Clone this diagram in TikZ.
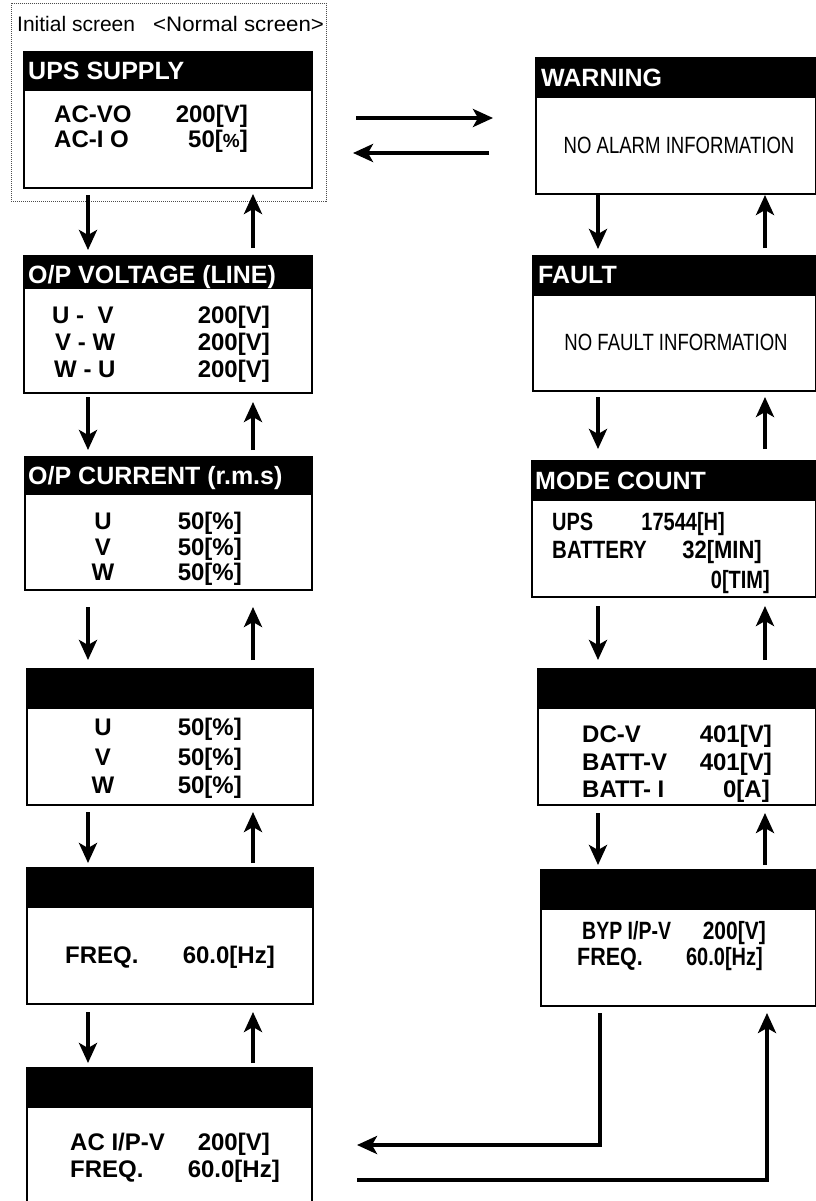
\documentclass[tikz,border=0pt]{standalone}
\usepackage{fontspec}
\setmainfont{Liberation Sans}
\usepackage{graphicx}
\usetikzlibrary{arrows.meta,calc}
\newcommand{\cnd}[2]{\scalebox{#1}[1]{#2}}
\tikzset{
 screen/.style={draw=black, line width=1.5pt, anchor=north west, inner sep=0pt, outer sep=0pt, fill=white},
 hdr/.style={fill=black, draw=black, line width=1.5pt, anchor=north west, inner sep=0pt, outer sep=0pt, minimum height=38pt},
 htxt/.style={anchor=base west, inner sep=0pt, text=white, font=\fontsize{25}{30}\selectfont\bfseries},
 lt/.style={anchor=base west, inner sep=0pt, font=\fontsize{24}{28}\selectfont\bfseries},
 rt/.style={anchor=base east, inner sep=0pt, font=\fontsize{24}{28}\selectfont\bfseries},
 ct/.style={anchor=base, inner sep=0pt, font=\fontsize{24}{28}\selectfont\bfseries},
 note/.style={anchor=base, inner sep=0pt, font=\fontsize{24}{28}\selectfont},
 arr/.style={line width=4pt, -{Stealth[length=20pt,width=18pt,inset=5pt]}},
}
\begin{document}
\begin{tikzpicture}[x=1pt,y=-1pt]
\useasboundingbox (0,0) rectangle (815,1201);
% dotted frame round the initial screen
\node[draw=black!70, line width=0.8pt, dash pattern=on 1pt off 1pt, anchor=north west, inner sep=0pt, minimum width=315pt, minimum height=198pt] (frame) at (11,3) {};
\node[anchor=base west, inner sep=0pt, font=\fontsize{21}{24}\selectfont] (ini) at (17,32) {Initial screen};
\node[anchor=base west, inner sep=0pt, font=\fontsize{21}{24}\selectfont] (nor) at (153,32) {\scalebox{1.06}[1]{<Normal screen>}};

% ---------- left column ----------
\node[screen, minimum width=288pt, minimum height=136pt] (b1) at (24,52) {};
\node[hdr, minimum width=288pt] (b1h) at (24,52) {};
\node[htxt] (b1t) at (28,80) {UPS SUPPLY};
\node[lt] (b1a) at (54,123) {AC-VO};
\node[rt] (b1b) at (248,123) {200[V]};
\node[lt] (b1c) at (54,148) {AC-I O};
\node[rt] (b1d) at (248,148) {50[{\fontsize{19}{20}\selectfont\%}]};

\node[screen, minimum width=288pt, minimum height=137pt] (b2) at (24,256) {};
\node[hdr, minimum width=288pt, minimum height=32pt] (b2h) at (24,256) {};
\node[htxt] (b2t) at (28,283) {O/P VOLTAGE (LINE)};
\node[lt] (b2a) at (52,323) {U -\ \ V};
\node[rt] (b2b) at (270,323) {200[V]};
\node[lt] (b2c) at (55,350) {V - W};
\node[rt] (b2d) at (270,350) {200[V]};
\node[lt] (b2e) at (54,377) {W - U};
\node[rt] (b2f) at (270,377) {200[V]};

\node[screen, minimum width=287pt, minimum height=133pt] (b3) at (25,457) {};
\node[hdr, minimum width=287pt, minimum height=37pt] (b3h) at (25,457) {};
\node[htxt] (b3t) at (28,484) {O/P CURRENT (r.m.s)};
\node[ct] (b3a) at (103,529) {U};
\node[rt] (b3b) at (242,529) {50[\%]};
\node[ct] (b3c) at (103,555) {V};
\node[rt] (b3d) at (242,555) {50[\%]};
\node[ct] (b3e) at (103,580) {W};
\node[rt] (b3f) at (242,580) {50[\%]};

\node[screen, minimum width=286pt, minimum height=136pt] (b4) at (27,669) {};
\node[hdr, minimum width=286pt, minimum height=39pt] (b4h) at (27,669) {};
\node[ct] (b4a) at (103,735) {U};
\node[rt] (b4b) at (242,735) {50[\%]};
\node[ct] (b4c) at (103,765) {V};
\node[rt] (b4d) at (242,765) {50[\%]};
\node[ct] (b4e) at (103,793) {W};
\node[rt] (b4f) at (242,793) {50[\%]};

\node[screen, minimum width=286pt, minimum height=136pt] (b5) at (27,868) {};
\node[hdr, minimum width=286pt, minimum height=39pt] (b5h) at (27,868) {};
\node[lt] (b5a) at (65,963) {FREQ.};
\node[rt] (b5b) at (275,963) {60.0[Hz]};

\node[screen, minimum width=285pt, minimum height=140pt] (b6) at (27,1068) {};
\node[hdr, minimum width=285pt, minimum height=39pt] (b6h) at (27,1068) {};
\node[lt] (b6a) at (70,1150) {AC I/P-V};
\node[rt] (b6b) at (270,1150) {200[V]};
\node[lt] (b6c) at (70,1177) {FREQ.};
\node[rt] (b6d) at (280,1177) {60.0[Hz]};

% ---------- right column ----------
\node[screen, minimum width=280pt, minimum height=136pt] (r1) at (536,58) {};
\node[hdr, minimum width=280pt, minimum height=39pt] (r1h) at (536,58) {};
\node[htxt] (r1t) at (541,87) {WARNING};
\node[note] (r1a) at (679,154) {\cnd{0.79}{\fontsize{23.5}{26}\selectfont NO ALARM INFORMATION}};

\node[screen, minimum width=283pt, minimum height=135pt] (r2) at (533,256) {};
\node[hdr, minimum width=283pt, minimum height=39pt] (r2h) at (533,256) {};
\node[htxt] (r2t) at (538,283) {FAULT};
\node[note] (r2a) at (676,350) {\cnd{0.79}{\fontsize{23.5}{26}\selectfont NO FAULT INFORMATION}};

\node[screen, minimum width=284pt, minimum height=136pt] (r3) at (532,461) {};
\node[hdr, minimum width=284pt, minimum height=39pt] (r3h) at (532,461) {};
\node[htxt] (r3t) at (535,489) {MODE COUNT};
\node[lt] (r3a) at (552,530) {\cnd{0.8}{\fontsize{25}{28}\selectfont UPS}};
\node[rt] (r3b) at (725,530) {\cnd{0.8}{\fontsize{25}{28}\selectfont 17544[H]}};
\node[lt] (r3c) at (552,558) {\cnd{0.82}{\fontsize{25}{28}\selectfont BATTERY}};
\node[rt] (r3d) at (762,558) {\cnd{0.88}{\fontsize{25}{28}\selectfont 32[MIN]}};
\node[rt] (r3e) at (770,588) {\cnd{0.8}{\fontsize{25}{28}\selectfont 0[TIM]}};

\node[screen, minimum width=278pt, minimum height=136pt] (r4) at (538,669) {};
\node[hdr, minimum width=278pt, minimum height=39pt] (r4h) at (538,669) {};
\node[lt] (r4a) at (582,742) {DC-V};
\node[rt] (r4b) at (772,742) {401[V]};
\node[lt] (r4c) at (582,770) {BATT-V};
\node[rt] (r4d) at (772,770) {401[V]};
\node[lt] (r4e) at (582,797) {BATT- I};
\node[rt] (r4f) at (770,797) {0[A]};

\node[screen, minimum width=275pt, minimum height=136pt] (r5) at (541,870) {};
\node[hdr, minimum width=275pt, minimum height=39pt] (r5h) at (541,870) {};
\node[lt] (r5a) at (582,939) {\cnd{0.78}{\fontsize{25}{28}\selectfont BYP I/P-V}};
\node[rt] (r5b) at (766,939) {\cnd{0.84}{\fontsize{25}{28}\selectfont 200[V]}};
\node[lt] (r5c) at (577,965) {\cnd{0.86}{\fontsize{25}{28}\selectfont FREQ.}};
\node[rt] (r5d) at (763,965) {\cnd{0.8}{\fontsize{25}{28}\selectfont 60.0[Hz]}};

% ---------- connector columns ----------
\coordinate (dL) at (88,0);
\coordinate (uL) at (253,0);
\coordinate (dR) at (598,0);
\coordinate (uR) at (765,0);
\coordinate (h1) at (0,118);
\coordinate (h2) at (0,153);
\coordinate (h3) at (0,1145);
\coordinate (h4) at (0,1180);
\coordinate (xa) at (600,0);
\coordinate (xb) at (767,0);

% left column
\draw[arr, shorten <=7pt, shorten >=6pt] (b1.south -| dL) -- (b2.north -| dL);
\draw[arr, shorten <=8pt, shorten >=6pt] (b2.north -| uL) -- (b1.south -| uL);
\draw[arr, shorten <=4pt, shorten >=7pt] (b2.south -| dL) -- (b3.north -| dL);
\draw[arr, shorten <=7pt, shorten >=9pt] (b3.north -| uL) -- (b2.south -| uL);
\draw[arr, shorten <=17pt, shorten >=9pt] (b3.south -| dL) -- (b4.north -| dL);
\draw[arr, shorten <=9pt, shorten >=17pt] (b4.north -| uL) -- (b3.south -| uL);
\draw[arr, shorten <=7pt, shorten >=5pt] (b4.south -| dL) -- (b5.north -| dL);
\draw[arr, shorten <=5pt, shorten >=7pt] (b5.north -| uL) -- (b4.south -| uL);
\draw[arr, shorten <=8pt, shorten >=5pt] (b5.south -| dL) -- (b6.north -| dL);
\draw[arr, shorten <=5pt, shorten >=8pt] (b6.north -| uL) -- (b5.south -| uL);

% right column
\draw[arr, shorten <=1pt, shorten >=7pt] (r1.south -| dR) -- (r2.north -| dR);
\draw[arr, shorten <=8pt, shorten >=1pt] (r2.north -| uR) -- (r1.south -| uR);
\draw[arr, shorten <=6pt, shorten >=12pt] (r2.south -| dR) -- (r3.north -| dR);
\draw[arr, shorten <=12pt, shorten >=6pt] (r3.north -| uR) -- (r2.south -| uR);
\draw[arr, shorten <=9pt, shorten >=9pt] (r3.south -| dR) -- (r4.north -| dR);
\draw[arr, shorten <=9pt, shorten >=9pt] (r4.north -| uR) -- (r3.south -| uR);
\draw[arr, shorten <=8pt, shorten >=5pt] (r4.south -| dR) -- (r5.north -| dR);
\draw[arr, shorten <=5pt, shorten >=8pt] (r5.north -| uR) -- (r4.south -| uR);

% top cross arrows
\draw[arr, shorten <=44pt, shorten >=43pt] (b1.east |- h1) -- (r1.west |- h1);
\draw[arr, shorten <=47pt, shorten >=41pt] (r1.west |- h2) -- (b1.east |- h2);

% bottom loop
\draw[arr, shorten <=7pt, shorten >=45pt] (r5.south -| xa) |- (b6.east |- h3);
\draw[arr, shorten <=45pt, shorten >=7pt] (b6.east |- h4) -| (r5.south -| xb);
\end{tikzpicture}
\end{document}
